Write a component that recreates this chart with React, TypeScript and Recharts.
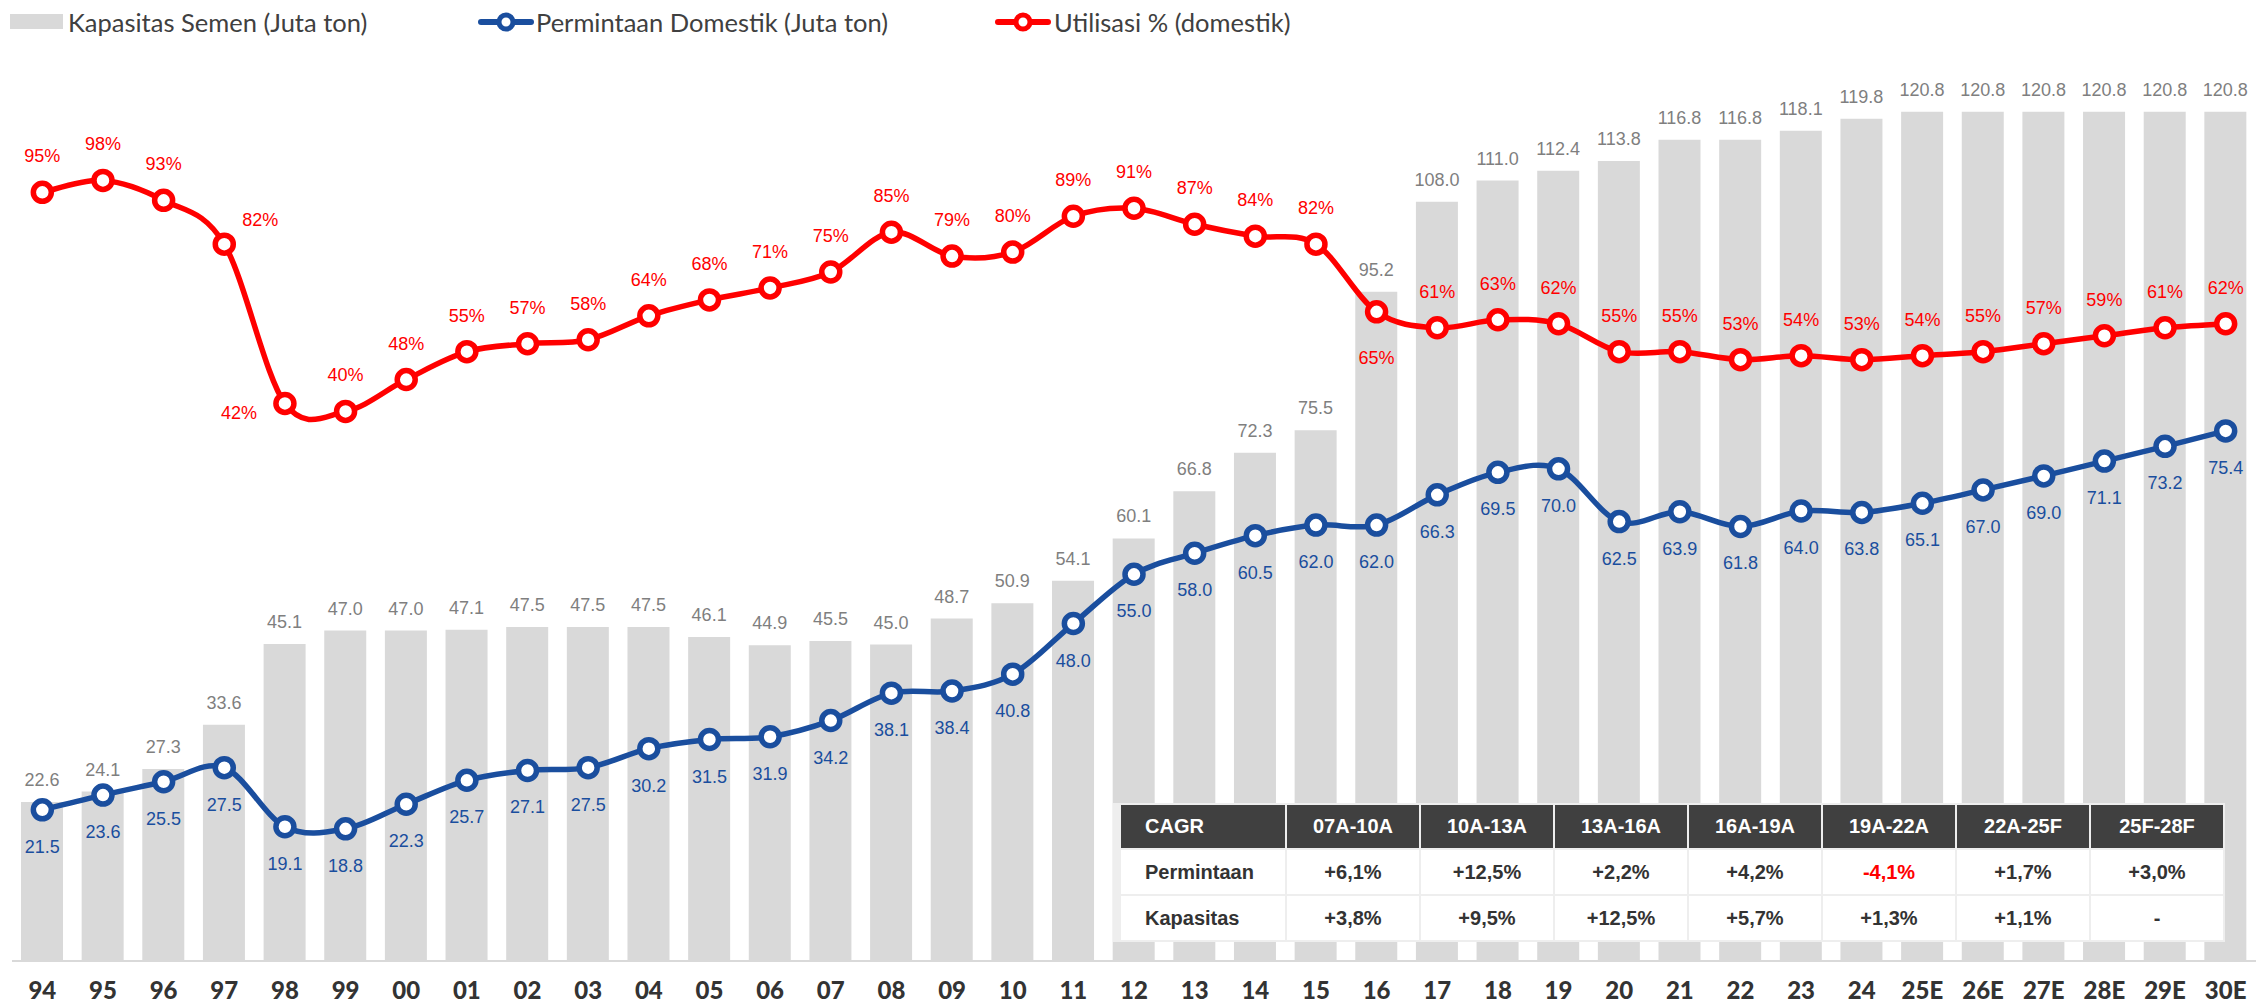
import React from 'react';
import { ComposedChart, Bar, Line, XAxis, YAxis, LabelList } from 'recharts';

const years = ['94', '95', '96', '97', '98', '99', '00', '01', '02', '03', '04', '05', '06', '07', '08', '09', '10', '11', '12', '13', '14', '15', '16', '17', '18', '19', '20', '21', '22', '23', '24', '25E', '26E', '27E', '28E', '29E', '30E'];
const capacity = [22.6, 24.1, 27.3, 33.6, 45.1, 47.0, 47.0, 47.1, 47.5, 47.5, 47.5, 46.1, 44.9, 45.5, 45.0, 48.7, 50.9, 54.1, 60.1, 66.8, 72.3, 75.5, 95.2, 108.0, 111.0, 112.4, 113.8, 116.8, 116.8, 118.1, 119.8, 120.8, 120.8, 120.8, 120.8, 120.8, 120.8];
const demand = [21.5, 23.6, 25.5, 27.5, 19.1, 18.8, 22.3, 25.7, 27.1, 27.5, 30.2, 31.5, 31.9, 34.2, 38.1, 38.4, 40.8, 48.0, 55.0, 58.0, 60.5, 62.0, 62.0, 66.3, 69.5, 70.0, 62.5, 63.9, 61.8, 64.0, 63.8, 65.1, 67.0, 69.0, 71.1, 73.2, 75.4];
const utilization = [95, 98, 93, 82, 42, 40, 48, 55, 57, 58, 64, 68, 71, 75, 85, 79, 80, 89, 91, 87, 84, 82, 65, 61, 63, 62, 55, 55, 53, 54, 53, 54, 55, 57, 59, 61, 62];

const cagrPeriods = ['07A-10A', '10A-13A', '13A-16A', '16A-19A', '19A-22A', '22A-25F', '25F-28F'];
const cagrDemand = ['+6,1%', '+12,5%', '+2,2%', '+4,2%', '-4,1%', '+1,7%', '+3,0%'];
const cagrCapacity = ['+3,8%', '+9,5%', '+12,5%', '+5,7%', '+1,3%', '+1,1%', '-'];

const data = years.map((year, i) => ({
  year,
  capacity: capacity[i],
  demand: demand[i],
  utilization: utilization[i],
}));

const BLUE = '#1a4e9e';
const RED = '#ff0000';
const LABEL_FONT = '"Liberation Sans", Arial, sans-serif';

// Excel-like smoothed line (Catmull-Rom through every point)
const smoothCurve = (context: any) => {
  let pts: number[][] = [];
  return {
    areaStart() {},
    areaEnd() {},
    lineStart() {
      pts = [];
    },
    point(x: number, y: number) {
      pts.push([+x, +y]);
    },
    lineEnd() {
      const n = pts.length;
      if (!n) return;
      context.moveTo(pts[0][0], pts[0][1]);
      for (let i = 0; i < n - 1; i++) {
        const p0 = pts[i - 1] || pts[i];
        const p1 = pts[i];
        const p2 = pts[i + 1];
        const p3 = pts[i + 2] || p2;
        context.bezierCurveTo(
          p1[0] + (p2[0] - p0[0]) / 6,
          p1[1] + (p2[1] - p0[1]) / 6,
          p2[0] - (p3[0] - p1[0]) / 6,
          p2[1] - (p3[1] - p1[1]) / 6,
          p2[0],
          p2[1]
        );
      }
    },
  };
};

// where the red labels sit off their default spot above the point
const redLabelShift: Record<string, { dx: number; dy: number }> = {
  '97': { dx: 36, dy: -18 },
  '98': { dx: -46, dy: 16 },
  '16': { dx: 0, dy: 52 },
};

const BarValueLabel = (props: any) => {
  const { x, y, width, value } = props;
  return (
    <text x={x + width / 2} y={y - 16} textAnchor="middle" fill="#7f7f7f" fontSize={18} fontFamily={LABEL_FONT}>
      {Number(value).toFixed(1)}
    </text>
  );
};

const DemandLabel = (props: any) => {
  const { x, y, value } = props;
  return (
    <text x={x} y={y + 43} textAnchor="middle" fill={BLUE} fontSize={18} fontFamily={LABEL_FONT}>
      {Number(value).toFixed(1)}
    </text>
  );
};

const UtilLabel = (props: any) => {
  const { x, y, value, index } = props;
  const shift = redLabelShift[years[index]] || { dx: 0, dy: -30 };
  return (
    <text x={x + shift.dx} y={y + shift.dy} textAnchor="middle" fill={RED} fontSize={18} fontFamily={LABEL_FONT}>
      {value}%
    </text>
  );
};

const YearTick = (props: any) => {
  const { x, y, payload } = props;
  return (
    <text x={x} y={y + 30} textAnchor="middle" fill="#333333" fontSize={24} fontWeight={900} fontFamily="Lato, sans-serif">
      {payload.value}
    </text>
  );
};

const LegendLineIcon = ({ color }: { color: string }) => (
  <svg width={56} height={24} style={{ display: 'block' }}>
    <line x1={3} y1={12} x2={53} y2={12} stroke={color} strokeWidth={6} strokeLinecap="round" />
    <circle cx={28} cy={12} r={7} fill="#fff" stroke={color} strokeWidth={5} />
  </svg>
);

const ChartLegend = () => {
  const text: React.CSSProperties = {
    position: 'absolute',
    top: 0,
    height: 44,
    lineHeight: '44px',
    fontFamily: 'Lato, sans-serif',
    fontSize: 25.5,
    color: '#404040',
    whiteSpace: 'nowrap',
  };
  return (
    <div style={{ position: 'absolute', left: 0, top: 0, width: 1400, height: 44 }}>
      <div style={{ position: 'absolute', left: 10, top: 14, width: 53, height: 15, background: '#d9d9d9' }} />
      <span style={{ ...text, left: 68 }}>Kapasitas Semen (Juta ton)</span>
      <div style={{ position: 'absolute', left: 478, top: 10 }}>
        <LegendLineIcon color={BLUE} />
      </div>
      <span style={{ ...text, left: 536 }}>Permintaan Domestik (Juta ton)</span>
      <div style={{ position: 'absolute', left: 995, top: 10 }}>
        <LegendLineIcon color={RED} />
      </div>
      <span style={{ ...text, left: 1054 }}>Utilisasi % (domestik)</span>
    </div>
  );
};

const CagrTable = () => {
  const cell: React.CSSProperties = {
    display: 'flex',
    alignItems: 'center',
    justifyContent: 'center',
    fontFamily: LABEL_FONT,
    fontWeight: 700,
    fontSize: 20,
    background: '#ffffff',
    color: '#333333',
  };
  const head: React.CSSProperties = { ...cell, background: '#404040', color: '#ffffff' };
  const first: React.CSSProperties = { justifyContent: 'flex-start', paddingLeft: 24 };
  return (
    <div
      style={{
        position: 'absolute',
        left: 1113,
        top: 803,
        width: 1112,
        height: 139,
        boxSizing: 'border-box',
        padding: '2px 2px 2px 8px',
        background: '#eeeeee',
        display: 'grid',
        gridTemplateColumns: '164px repeat(7, 1fr)',
        gridTemplateRows: '43px 1fr 1fr',
        gap: 2,
      }}
    >
      <div style={{ ...head, ...first }}>CAGR</div>
      {cagrPeriods.map((p) => (
        <div key={p} style={head}>{p}</div>
      ))}
      <div style={{ ...cell, ...first }}>Permintaan</div>
      {cagrDemand.map((v, i) => (
        <div key={i} style={{ ...cell, color: v.startsWith('-') ? RED : '#333333' }}>{v}</div>
      ))}
      <div style={{ ...cell, ...first }}>Kapasitas</div>
      {cagrCapacity.map((v, i) => (
        <div key={i} style={cell}>{v}</div>
      ))}
    </div>
  );
};

export default function App() {
  return (
    <div style={{ position: 'absolute', left: 0, top: 0, width: 2257, height: 1004, background: '#fff', overflow: 'hidden' }}>
      <ComposedChart width={2257} height={1004} data={data} margin={{ top: 47, right: 1, left: 12, bottom: 0 }}>
        <XAxis
          dataKey="year"
          interval={0}
          tickLine={false}
          axisLine={{ stroke: '#d9d9d9', strokeWidth: 2 }}
          tick={<YearTick />}
          height={43}
        />
        <YAxis yAxisId="left" domain={[0, 130]} hide />
        <YAxis yAxisId="right" domain={[-98, 131.5]} hide />
        <Bar yAxisId="left" dataKey="capacity" fill="#d9d9d9" barSize={42} isAnimationActive={false}>
          <LabelList dataKey="capacity" content={<BarValueLabel />} />
        </Bar>
        <Line
          yAxisId="left"
          dataKey="demand"
          type={smoothCurve as any}
          stroke={BLUE}
          strokeWidth={5.5}
          dot={{ r: 9, fill: '#ffffff', stroke: BLUE, strokeWidth: 5.5 }}
          activeDot={false}
          isAnimationActive={false}
        >
          <LabelList dataKey="demand" content={<DemandLabel />} />
        </Line>
        <Line
          yAxisId="right"
          dataKey="utilization"
          type={smoothCurve as any}
          stroke={RED}
          strokeWidth={5.5}
          dot={{ r: 9, fill: '#ffffff', stroke: RED, strokeWidth: 5.5 }}
          activeDot={false}
          isAnimationActive={false}
        >
          <LabelList dataKey="utilization" content={<UtilLabel />} />
        </Line>
      </ComposedChart>
      <ChartLegend />
      <CagrTable />
    </div>
  );
}
